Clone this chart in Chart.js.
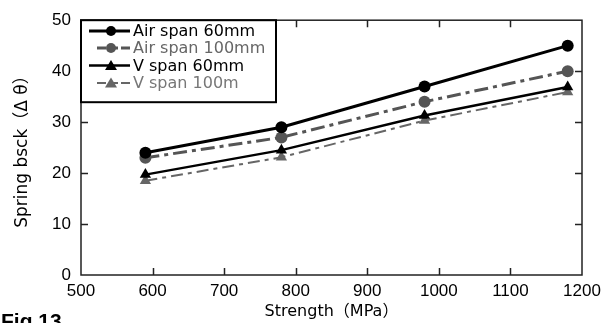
<!DOCTYPE html>
<html>
<head>
<meta charset="utf-8">
<script src="https://cdn.jsdelivr.net/npm/chart.js@4"></script>
<style>
html,body{margin:0;padding:0;background:#fff;overflow:hidden;width:611px;height:323px;}
#wrap{position:relative;width:611px;height:323px;}
#fig{position:absolute;left:1px;top:309px;font:bold 21px "Liberation Sans",Arial,sans-serif;color:#000;}
</style>
</head>
<body>
<div id="wrap">
<canvas id="c" width="611" height="323"></canvas>
<div id="fig">Fig.13</div>
</div>
<script>
const strengths = [590, 780, 980, 1180];
const seriesNames = ["Air span 60mm", "Air span 100mm", "V span 60mm", "V span 100m"];
const air60 = [24, 29, 37, 45];
const air100 = [23, 27, 34, 40];
const v60 = [19.7, 24.5, 31.3, 36.9];
const v100 = [18.5, 23.1, 30.3, 35.9];
const xTicks = [500, 600, 700, 800, 900, 1000, 1100, 1200];
const yTicks = [0, 10, 20, 30, 40, 50];

const pts = arr => arr.map((v, i) => ({x: strengths[i], y: v}));
const styles = [
  {color:'#000', width:3, dash:[], marker:'circle', r:6, text:'#000', lx0:89},
  {color:'#555', width:3, dash:[14,5,4,5], marker:'circle', r:6, text:'#666', lx0:97},
  {color:'#000', width:2.5, dash:[], marker:'triangle', r:6.5, text:'#000', lx0:89},
  {color:'#666', width:2, dash:[12,5,4,5], marker:'triangle', r:6.5, text:'#777', lx0:97}
];
const allData = [air60, air100, v60, v100];

const datasets = allData.map((arr, i) => ({
  label: seriesNames[i],
  data: pts(arr),
  borderColor: styles[i].color,
  backgroundColor: styles[i].color,
  pointBackgroundColor: styles[i].color,
  pointBorderColor: styles[i].color,
  borderWidth: styles[i].width,
  borderDash: styles[i].dash,
  pointStyle: styles[i].marker,
  pointRadius: styles[i].r,
  pointBorderWidth: 0,
  pointHoverRadius: styles[i].r,
  tension: 0,
  fill: false
}));

const framePlugin = {
  id: 'frame',
  afterDraw(chart) {
    const ctx = chart.ctx;
    const a = chart.chartArea;
    const xs = chart.scales.x, ys = chart.scales.y;
    ctx.save();
    ctx.strokeStyle = '#222';
    ctx.lineWidth = 1.5;
    ctx.setLineDash([]);
    ctx.strokeRect(a.left, a.top, a.right - a.left, a.bottom - a.top);
    const tl = 7;
    ctx.beginPath();
    xTicks.forEach(v => {
      if (v === xTicks[0] || v === xTicks[xTicks.length-1]) return;
      const px = Math.round(xs.getPixelForValue(v)) + 0.5;
      ctx.moveTo(px, a.bottom); ctx.lineTo(px, a.bottom - tl);
      ctx.moveTo(px, a.top); ctx.lineTo(px, a.top + tl);
    });
    yTicks.forEach(v => {
      if (v === yTicks[0] || v === yTicks[yTicks.length-1]) return;
      const py = Math.round(ys.getPixelForValue(v)) + 0.5;
      ctx.moveTo(a.left, py); ctx.lineTo(a.left + tl, py);
      ctx.moveTo(a.right, py); ctx.lineTo(a.right - tl, py);
    });
    ctx.stroke();

    // legend
    const bx = a.left, by = a.top, bw = 195, bh = 82;
    ctx.fillStyle = '#fff';
    ctx.fillRect(bx, by, bw, bh);
    ctx.strokeStyle = '#000';
    ctx.lineWidth = 2;
    ctx.strokeRect(bx, by, bw, bh);
    const rows = [31, 48, 65.5, 83];
    ctx.font = '16px "DejaVu Sans", sans-serif';
    ctx.textBaseline = 'middle';
    ctx.textAlign = 'left';
    chart.data.datasets.forEach((ds, i) => {
      const s = styles[i];
      const y = rows[i];
      ctx.strokeStyle = s.color;
      ctx.lineWidth = s.width;
      ctx.setLineDash(i % 2 ? [9,3] : []);
      ctx.beginPath();
      ctx.moveTo(s.lx0, y); ctx.lineTo(130, y);
      ctx.stroke();
      ctx.setLineDash([]);
      ctx.fillStyle = s.color;
      ctx.beginPath();
      const mx = 111;
      if (s.marker === 'circle') {
        ctx.arc(mx, y, 5, 0, Math.PI * 2);
      } else {
        ctx.moveTo(mx, y - 5.5); ctx.lineTo(mx + 6, y + 4.5); ctx.lineTo(mx - 6, y + 4.5); ctx.closePath();
      }
      ctx.fill();
      ctx.fillStyle = s.text;
      ctx.fillText(ds.label, 133, y + 1);
    });
    ctx.restore();
  }
};

new Chart(document.getElementById('c'), {
  type: 'line',
  data: { datasets },
  options: {
    responsive: false,
    animation: false,
    devicePixelRatio: 1,
    layout: { padding: { top: 15, right: 29, left: 0, bottom: 0 } },
    plugins: { legend: { display: false }, tooltip: { enabled: false } },
    scales: {
      x: {
        type: 'linear',
        min: 500, max: 1200,
        afterFit(s) { s.height = 48; },
        afterBuildTicks(s) { s.ticks = xTicks.map(v => ({value: v})); },
        grid: { display: false, drawTicks: false },
        border: { display: false },
        ticks: { color: '#000', padding: 6, callback: v => String(v), font: { family: '"Liberation Sans", Arial, sans-serif', size: 17 }, maxRotation: 0 },
        title: { display: true, text: 'Strength（MPa）', color: '#000', padding: { top: 0, bottom: 2 }, font: { family: '"DejaVu Sans", "Noto Sans CJK JP", sans-serif', size: 16 } }
      },
      y: {
        min: 0, max: 50,
        afterFit(s) { s.width = 81; },
        afterBuildTicks(s) { s.ticks = yTicks.map(v => ({value: v})); },
        grid: { display: false, drawTicks: false },
        border: { display: false },
        ticks: { color: '#000', padding: 10, callback: v => String(v), font: { family: '"Liberation Sans", Arial, sans-serif', size: 17 } },
        title: { display: true, text: 'Spring bsck（Δ θ）', color: '#000', padding: { top: 12, bottom: 0 }, font: { family: '"DejaVu Sans", "Noto Sans CJK JP", sans-serif', size: 17 } }
      }
    }
  },
  plugins: [framePlugin]
});
</script>
</body>
</html>
